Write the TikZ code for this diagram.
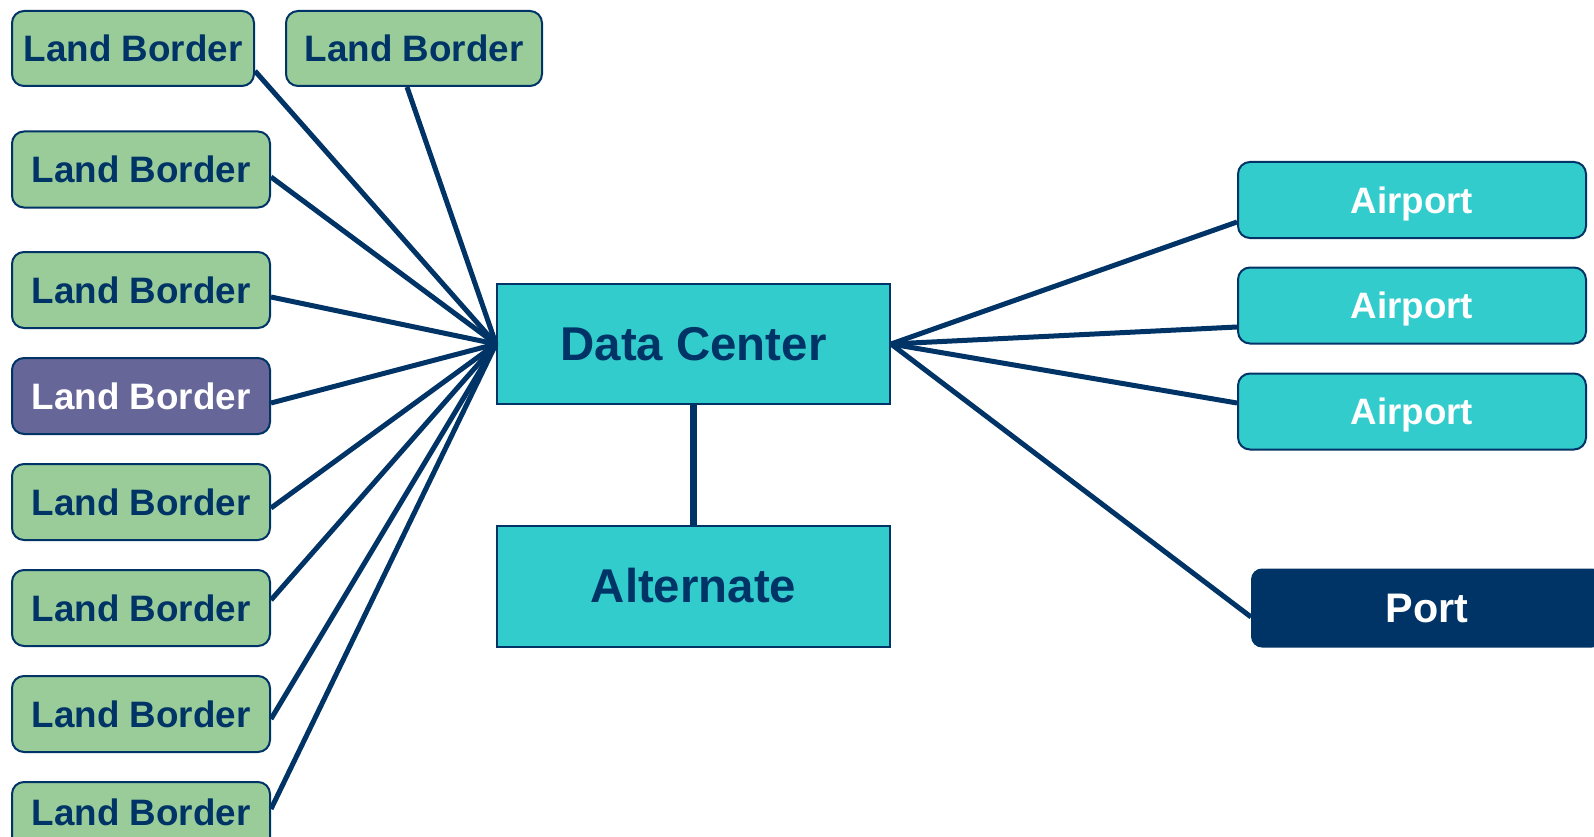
\documentclass[tikz,border=0pt]{standalone}
\usepackage{fontspec}
\setmainfont{Liberation Sans}
\definecolor{navy}{HTML}{003366}
\definecolor{lbgreen}{HTML}{99CC99}
\definecolor{teal}{HTML}{33CCCC}
\definecolor{slate}{HTML}{666699}
\tikzset{
  box/.style={draw=navy, line width=2pt, inner sep=0pt, text depth=0pt, align=center},
  land/.style={box, fill=lbgreen, text=navy, rounded corners=12pt,
    minimum width=258pt, minimum height=76pt, text height=26.3pt,
    font=\fontsize{36.8}{40}\selectfont\bfseries},
  landhot/.style={land, fill=slate, text=white},
  hub/.style={box, fill=teal, text=navy, minimum width=393pt,
    text height=33.9pt, font=\fontsize{47.4}{52}\selectfont\bfseries},
  airport/.style={box, fill=teal, text=white, rounded corners=12pt,
    minimum width=348pt, minimum height=76pt, text height=26.3pt,
    font=\fontsize{36.7}{40}\selectfont\bfseries},
  harbour/.style={box, fill=navy, text=white, rounded corners=10pt,
    minimum width=350pt, minimum height=77pt, text height=29.6pt,
    font=\fontsize{41.3}{45}\selectfont\bfseries},
  spoke/.style={draw=navy, line width=5pt},
  trunk/.style={draw=navy, line width=7pt},
}
\begin{document}
\begin{tikzpicture}[x=1pt, y=-1pt]
  \fill[white] (0,0) rectangle (1594,837);
  \useasboundingbox (0,0) rectangle (1594,837);

  % land border crossings
  \node[land, minimum width=242pt, minimum height=75pt] (lb1) at (133,48.5) {Land Border};
  \node[land, minimum width=256pt, minimum height=75pt] (lb2) at (414,48.5) {Land Border};
  \node[land] (lb3) at (141,169.5) {Land Border};
  \node[land] (lb4) at (141,290) {Land Border};
  \node[landhot] (lb5) at (141,396) {Land Border};
  \node[land] (lb6) at (141,502) {Land Border};
  \node[land] (lb7) at (141,608) {Land Border};
  \node[land] (lb8) at (141,714) {Land Border};
  % text sits a little high in the last box
  \node[land, text depth=16pt] (lb9) at (141,820) {Land Border};

  % central site and its backup
  \node[hub, minimum height=120pt] (dc) at (693.5,344) {Data Center};
  \node[hub, minimum height=121pt] (alt) at (693.5,586) {Alternate};

  % airports and port
  \node[airport] (ap1) at (1412,200) {Airport};
  \node[airport] (ap2) at (1412,305.5) {Airport};
  \node[airport] (ap3) at (1412,411.5) {Airport};
  \node[harbour] (port) at (1427,608) {Port};

  % links to the data center
  \draw[spoke] ([yshift=-22.5pt]lb1.east) -- (dc.west);
  \draw[spoke] ([xshift=-7pt]lb2.south) -- (dc.west);
  \draw[spoke] ([yshift=-7.5pt]lb3.east) -- (dc.west);
  \draw[spoke] ([yshift=-7pt]lb4.east) -- (dc.west);
  \draw[spoke] ([yshift=-7pt]lb5.east) -- (dc.west);
  \draw[spoke] ([yshift=-6pt]lb6.east) -- (dc.west);
  \draw[spoke] ([yshift=8pt]lb7.east) -- (dc.west);
  \draw[spoke] ([yshift=-5pt]lb8.east) -- (dc.west);
  \draw[spoke] ([yshift=11pt]lb9.east) -- (dc.west);

  \draw[spoke] (dc.east) -- ([yshift=-22pt]ap1.west);
  \draw[spoke] (dc.east) -- ([yshift=-21.5pt]ap2.west);
  \draw[spoke] (dc.east) -- ([yshift=8.5pt]ap3.west);
  \draw[spoke] (dc.east) -- ([yshift=-9pt]port.west);

  \draw[trunk] (dc.south) -- (alt.north);
\end{tikzpicture}
\end{document}
